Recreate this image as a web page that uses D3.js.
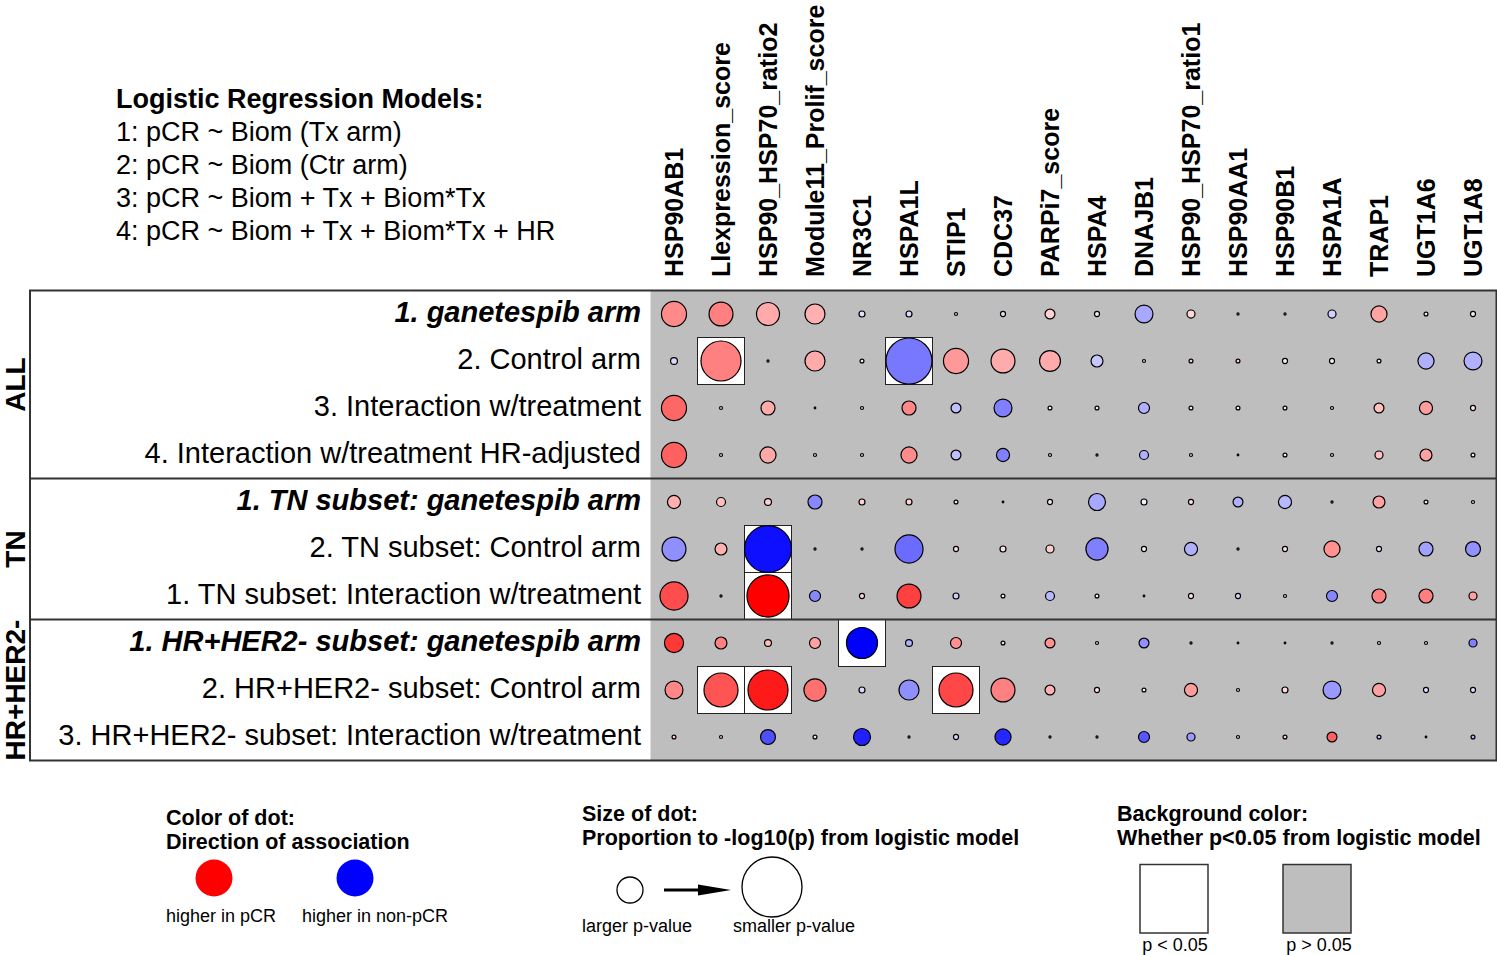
<!DOCTYPE html>
<html lang="en">
<head>
<meta charset="UTF-8">
<title>Logistic regression biomarker dot plot</title>
<script src="https://d3js.org/d3.v7.min.js"></script>
<style>
  body { margin: 0; background: #fff; }
  svg { display: block; font-family: "Liberation Sans", Arial, Helvetica, sans-serif; }
</style>
</head>
<body>
<script>
// ---- data ----
const biomarkers = ["HSP90AB1", "Llexpression_score", "HSP90_HSP70_ratio2", "Module11_Prolif_score",
  "NR3C1", "HSPA1L", "STIP1", "CDC37", "PARPi7_score", "HSPA4", "DNAJB1", "HSP90_HSP70_ratio1",
  "HSP90AA1", "HSP90B1", "HSPA1A", "TRAP1", "UGT1A6", "UGT1A8"];

const rowLabels = ["1. ganetespib arm", "2. Control arm", "3. Interaction w/treatment",
  "4. Interaction w/treatment HR-adjusted",
  "1. TN subset: ganetespib arm", "2. TN subset: Control arm", "1. TN subset: Interaction w/treatment",
  "1. HR+HER2- subset: ganetespib arm", "2. HR+HER2- subset: Control arm",
  "3. HR+HER2- subset: Interaction w/treatment"];
const rowEmphasis = [true, false, false, false, true, false, false, true, false, false];

const groupNames = ["ALL", "TN", "HR+HER2-"];
const groupSizes = [4, 3, 3];

const modelLines = ["1: pCR ~ Biom (Tx arm)", "2: pCR ~ Biom (Ctr arm)",
  "3: pCR ~ Biom + Tx + Biom*Tx", "4: pCR ~ Biom + Tx + Biom*Tx + HR"];

// signed -log10(p): sign = direction (+ higher in pCR, - higher in non-pCR)
const allTx    = [1.09, 1.04, 1.00, 0.87, -0.26, -0.26, 0.13, -0.22, 0.43, -0.22, -0.78, 0.35, 0.09, -0.09, -0.35, 0.70, 0.17, -0.22];
const allCtr   = [-0.30, 1.74, 0.09, 0.87, 0.17, -2.00, 1.09, 1.04, 0.91, -0.52, 0.13, 0.17, 0.17, -0.22, -0.22, 0.17, -0.70, -0.78];
const allInt   = [1.09, 0.13, 0.61, 0.07, 0.13, 0.61, -0.43, -0.78, 0.17, 0.17, -0.48, 0.17, 0.17, 0.17, 0.13, 0.43, 0.57, 0.22];
const allIntHR = [1.09, 0.13, 0.70, 0.13, 0.13, 0.70, -0.43, -0.57, 0.13, 0.09, -0.39, 0.13, 0.07, 0.17, 0.13, 0.35, 0.52, 0.17];
const tnTx     = [0.57, 0.39, 0.30, -0.61, 0.26, 0.26, 0.17, 0.07, 0.22, -0.74, -0.26, 0.22, -0.43, -0.57, 0.09, 0.52, 0.17, 0.13];
const tnCtr    = [-1.04, 0.52, -2.04, 0.09, 0.09, -1.22, 0.22, 0.26, 0.35, -0.96, -0.22, -0.57, 0.09, 0.22, 0.70, -0.22, -0.61, -0.65];
const tnInt    = [1.22, 0.09, 1.83, -0.48, 0.22, 1.04, -0.26, 0.17, -0.39, 0.17, 0.07, 0.22, -0.22, 0.13, -0.48, 0.61, 0.61, 0.35];
const hrTx     = [0.83, 0.52, 0.30, 0.48, -1.35, -0.30, 0.48, -0.17, 0.43, 0.13, -0.43, 0.09, 0.07, 0.07, 0.09, 0.13, 0.13, -0.35];
const hrCtr    = [0.78, 1.48, 1.74, 0.96, -0.26, -0.87, 1.48, 1.04, 0.43, 0.22, 0.17, 0.57, 0.13, 0.26, -0.78, 0.57, -0.22, -0.22];
const hrInt    = [0.17, 0.13, -0.65, -0.17, -0.74, 0.09, -0.22, -0.70, 0.09, 0.09, -0.48, -0.35, 0.13, 0.17, 0.43, -0.17, 0.07, -0.17];

// colour strength (effect size, 0..1)
const allTxShade    = [0.46, 0.50, 0.33, 0.31, 0.12, 0.15, 0.20, 0.10, 0.18, 0.06, 0.34, 0.15, 0.10, 0.10, 0.18, 0.36, 0.10, 0.05];
const allCtrShade   = [0.15, 0.50, 0.20, 0.33, 0.10, 0.53, 0.40, 0.33, 0.33, 0.22, 0.20, 0.20, 0.20, 0.05, 0.05, 0.10, 0.31, 0.31];
const allIntShade   = [0.60, 0.20, 0.33, 0.20, 0.20, 0.47, 0.25, 0.50, 0.05, 0.10, 0.31, 0.10, 0.10, 0.10, 0.20, 0.25, 0.38, 0.10];
const allIntHRShade = [0.62, 0.20, 0.34, 0.20, 0.20, 0.45, 0.25, 0.50, 0.20, 0.20, 0.31, 0.20, 0.20, 0.10, 0.20, 0.25, 0.37, 0.10];
const tnTxShade     = [0.31, 0.25, 0.18, 0.47, 0.18, 0.18, 0.10, 0.20, 0.10, 0.34, 0.06, 0.10, 0.31, 0.28, 0.20, 0.37, 0.10, 0.20];
const tnCtrShade    = [0.44, 0.31, 0.94, 0.20, 0.20, 0.58, 0.12, 0.12, 0.20, 0.50, 0.05, 0.31, 0.20, 0.10, 0.43, 0.10, 0.37, 0.43];
const tnIntShade    = [0.70, 0.20, 1.00, 0.47, 0.15, 0.75, 0.20, 0.10, 0.28, 0.10, 0.20, 0.10, 0.15, 0.20, 0.47, 0.50, 0.50, 0.37];
const hrTxShade     = [0.78, 0.50, 0.25, 0.37, 1.00, 0.31, 0.43, 0.15, 0.43, 0.20, 0.44, 0.20, 0.20, 0.20, 0.20, 0.20, 0.20, 0.50];
const hrCtrShade    = [0.47, 0.67, 0.90, 0.56, 0.15, 0.44, 0.72, 0.50, 0.31, 0.10, 0.05, 0.39, 0.20, 0.15, 0.40, 0.37, 0.12, 0.12];
const hrIntShade    = [0.20, 0.20, 0.69, 0.10, 0.87, 0.20, 0.15, 0.85, 0.20, 0.20, 0.66, 0.40, 0.20, 0.20, 0.62, 0.25, 0.20, 0.30];

const scoreRows = [allTx, allCtr, allInt, allIntHR, tnTx, tnCtr, tnInt, hrTx, hrCtr, hrInt];
const shadeRows = [allTxShade, allCtrShade, allIntShade, allIntHRShade, tnTxShade, tnCtrShade,
  tnIntShade, hrTxShade, hrCtrShade, hrIntShade];

// ---- layout ----
const W = 1497, H = 955;
const panelLeft = 30, gridLeft = 650.5, gridRight = 1496.5, gridTop = 290.5, gridBottom = 760.5;
const GRAY = "#bebebe";
const sigCut = -Math.log10(0.05);

const svg = d3.select("body").append("svg")
  .attr("width", W).attr("height", H);

const x = d3.scaleBand().domain(biomarkers).range([gridLeft, gridRight]);
const y = d3.scaleBand().domain(d3.range(rowLabels.length)).range([gridTop, gridBottom]);
const r = d3.scaleLinear().domain([0, 2]).range([0, 23]);
const fillOf = (s, t) => d3.interpolateRgb("#ffffff", s >= 0 ? "#ff0000" : "#0000ff")(t);

const cells = [];
scoreRows.forEach((row, i) => row.forEach((s, j) => cells.push({
  row: i, marker: biomarkers[j], score: s, shade: shadeRows[i][j], sig: Math.abs(s) > sigCut
})));

// grey background for the dot area
svg.append("rect")
  .attr("x", gridLeft).attr("y", gridTop)
  .attr("width", gridRight - gridLeft).attr("height", gridBottom - gridTop)
  .attr("fill", GRAY);

// white cells where p < 0.05
svg.append("g").selectAll("rect")
  .data(cells.filter(d => d.sig))
  .join("rect")
  .attr("x", d => x(d.marker)).attr("y", d => y(d.row))
  .attr("width", x.bandwidth()).attr("height", y.bandwidth())
  .attr("fill", "#fff").attr("stroke", "#222").attr("stroke-width", 1);

// dots
svg.append("g").selectAll("circle")
  .data(cells)
  .join("circle")
  .attr("cx", d => x(d.marker) + x.bandwidth() / 2)
  .attr("cy", d => y(d.row) + y.bandwidth() / 2)
  .attr("r", d => Math.max(0.8, r(Math.abs(d.score))))
  .attr("fill", d => fillOf(d.score, d.shade))
  .attr("stroke", "#000").attr("stroke-width", 1.2);

// frame and group separators
svg.append("rect")
  .attr("x", panelLeft).attr("y", gridTop)
  .attr("width", gridRight - panelLeft).attr("height", gridBottom - gridTop)
  .attr("fill", "none").attr("stroke", "#333").attr("stroke-width", 2);

let acc = 0;
const groupInfo = groupNames.map((g, k) => {
  const start = acc; acc += groupSizes[k];
  return { name: g, start, end: acc };
});
svg.append("g").selectAll("line")
  .data(groupInfo.slice(1))
  .join("line")
  .attr("x1", panelLeft).attr("x2", gridRight)
  .attr("y1", d => y(d.start)).attr("y2", d => y(d.start))
  .attr("stroke", "#333").attr("stroke-width", 2);

// group labels
svg.append("g").selectAll("text")
  .data(groupInfo)
  .join("text")
  .attr("transform", d => `translate(25,${(y(d.start) + y(d.end - 1) + y.bandwidth()) / 2}) rotate(-90)`)
  .attr("text-anchor", "middle")
  .attr("font-weight", "bold").attr("font-size", 28)
  .text(d => d.name);

// row labels
svg.append("g").selectAll("text")
  .data(rowLabels)
  .join("text")
  .attr("x", 641)
  .attr("y", (d, i) => y(i) + y.bandwidth() / 2 + 7.5)
  .attr("text-anchor", "end")
  .attr("font-size", 29)
  .attr("font-weight", (d, i) => rowEmphasis[i] ? "bold" : "normal")
  .attr("font-style", (d, i) => rowEmphasis[i] ? "italic" : "normal")
  .text(d => d);

// column labels
svg.append("g").selectAll("text")
  .data(biomarkers)
  .join("text")
  .attr("transform", d => `translate(${x(d) + x.bandwidth() / 2},277) rotate(-90)`)
  .attr("dy", "0.36em")
  .attr("font-weight", "bold").attr("font-size", 25)
  .text(d => d);

// model description
const title = svg.append("g").attr("font-size", 27);
title.append("text").attr("x", 116).attr("y", 108).attr("font-weight", "bold")
  .text("Logistic Regression Models:");
title.selectAll("text.m")
  .data(modelLines)
  .join("text").attr("class", "m")
  .attr("x", 116).attr("y", (d, i) => 141 + i * 33)
  .text(d => d);

// ---- legends ----
const leg = svg.append("g");
function heading(x0, y0, lines) {
  leg.selectAll(null).data(lines).join("text")
    .attr("x", x0).attr("y", (d, i) => y0 + i * 24)
    .attr("font-weight", "bold").attr("font-size", 21.5)
    .text(d => d);
}
function note(x0, y0, s, anchor) {
  leg.append("text").attr("x", x0).attr("y", y0)
    .attr("font-size", 18).attr("text-anchor", anchor || "start").text(s);
}

heading(166, 825, ["Color of dot:", "Direction of association"]);
leg.append("circle").attr("cx", 214).attr("cy", 878).attr("r", 18.5).attr("fill", "#ff0000");
leg.append("circle").attr("cx", 355).attr("cy", 878).attr("r", 18.5).attr("fill", "#0000ff");
note(166, 922, "higher in pCR");
note(302, 922, "higher in non-pCR");

heading(582, 821, ["Size of dot:", "Proportion to -log10(p) from logistic model"]);
leg.append("circle").attr("cx", 630).attr("cy", 890).attr("r", 13)
  .attr("fill", "#fff").attr("stroke", "#000").attr("stroke-width", 1.3);
leg.append("line").attr("x1", 664).attr("x2", 702).attr("y1", 890).attr("y2", 890)
  .attr("stroke", "#000").attr("stroke-width", 3);
leg.append("path").attr("d", "M698,884.5 L731,890 L698,895.5 Z").attr("fill", "#000");
leg.append("circle").attr("cx", 772).attr("cy", 887).attr("r", 30)
  .attr("fill", "#fff").attr("stroke", "#000").attr("stroke-width", 1.3);
note(582, 932, "larger p-value");
note(733, 932, "smaller p-value");

heading(1117, 821, ["Background color:", "Whether p<0.05 from logistic model"]);
leg.append("rect").attr("x", 1140).attr("y", 864.5).attr("width", 68).attr("height", 68.5)
  .attr("fill", "#fff").attr("stroke", "#333").attr("stroke-width", 1.5);
leg.append("rect").attr("x", 1283).attr("y", 864.5).attr("width", 68).attr("height", 68.5)
  .attr("fill", GRAY).attr("stroke", "#333").attr("stroke-width", 1.5);
note(1175, 951, "p < 0.05", "middle");
note(1319, 951, "p > 0.05", "middle");
</script>
</body>
</html>
